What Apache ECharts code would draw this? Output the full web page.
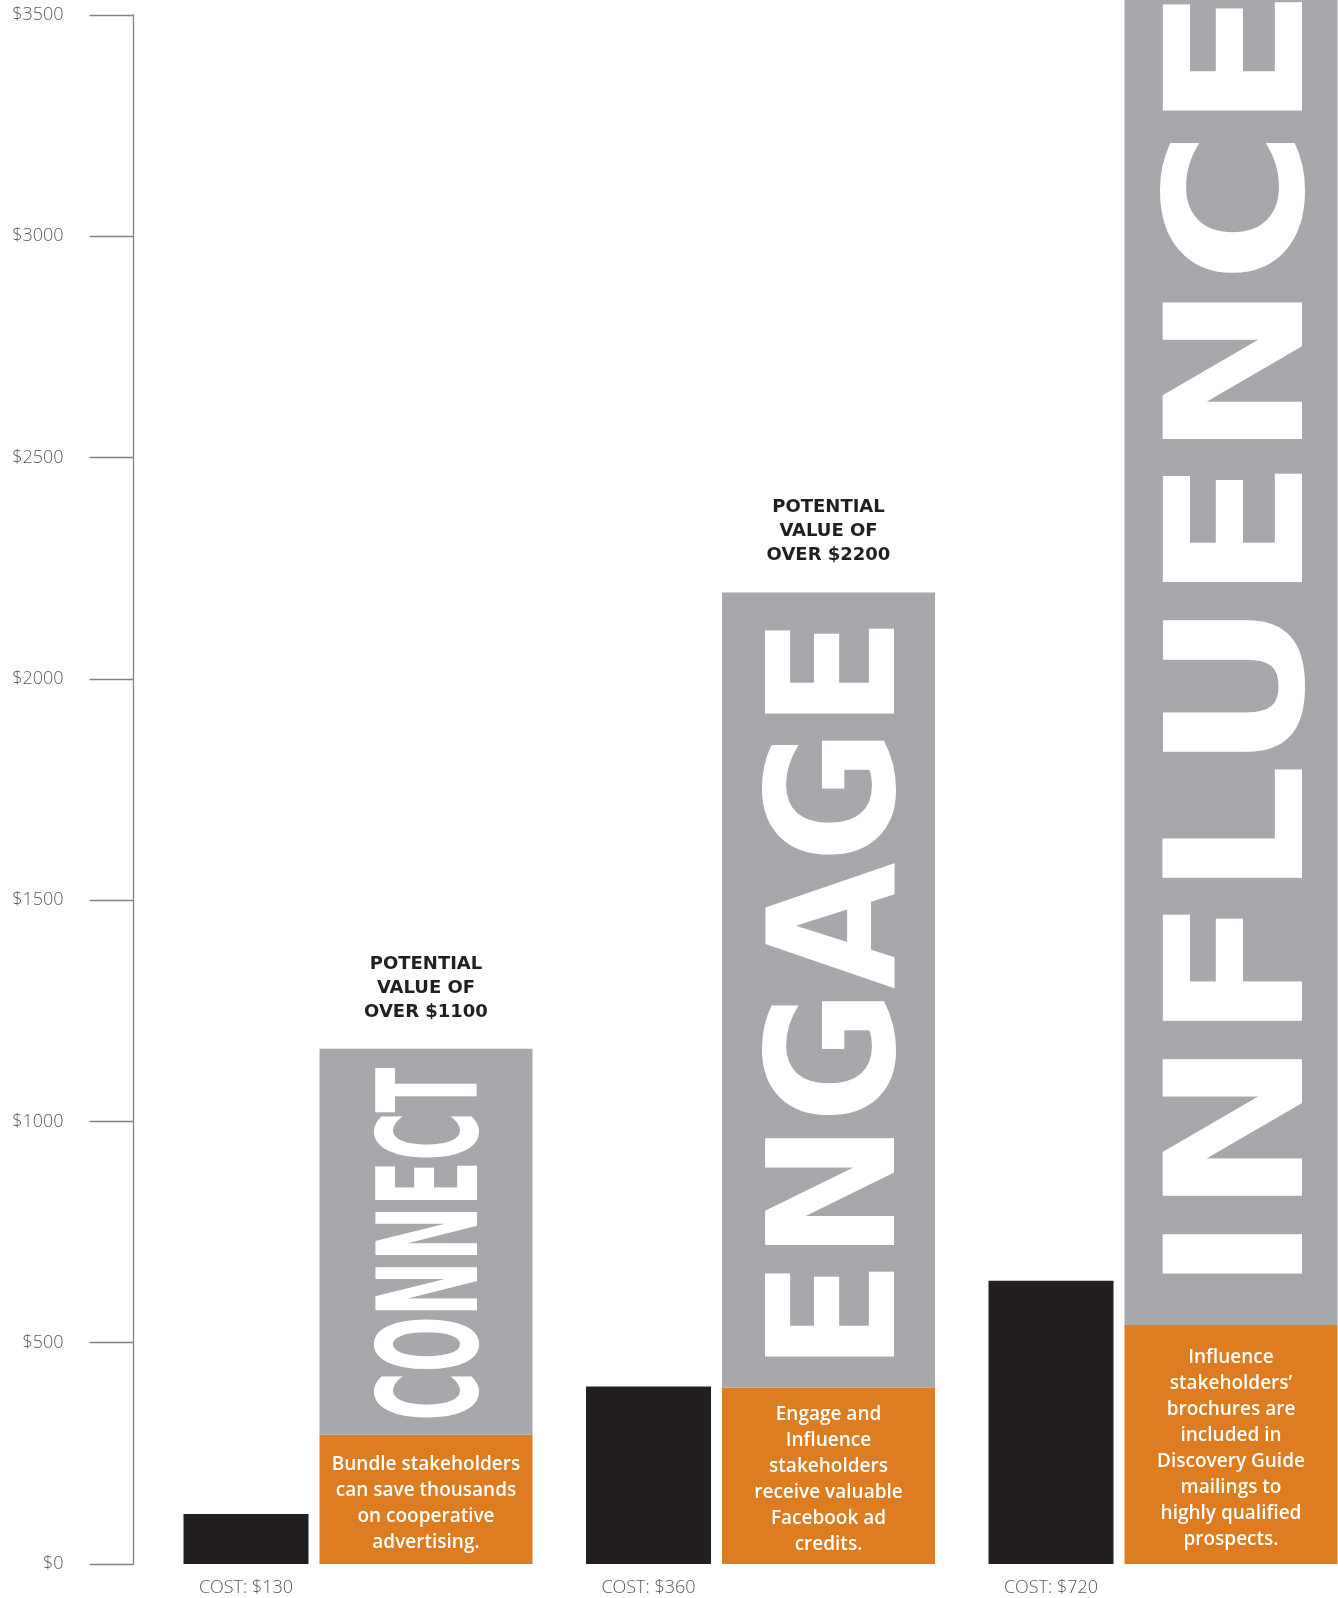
<!DOCTYPE html>
<html><head><meta charset="utf-8">
<script src="https://cdn.jsdelivr.net/npm/echarts@6/dist/echarts.min.js"></script>
<style>html,body{margin:0;padding:0;background:#fff}#c{width:1338px;height:1598px}</style>
</head><body><div id="c"></div>
<script>
// ---- data ----
const categories = ['Connect', 'Engage', 'Influence'];
const costValues = [113, 401, 640];
const costLabels = ['COST: $130', 'COST: $360', 'COST: $720'];
const benefitValues = [292, 398, 540];
const benefitTexts = [
  'Bundle stakeholders\ncan save thousands\non cooperative\nadvertising.',
  'Engage and\nInfluence\nstakeholders\nreceive valuable\nFacebook ad\ncredits.',
  'Influence\nstakeholders\u2019\nbrochures are\nincluded in\nDiscovery Guide\nmailings to\nhighly qualified\nprospects.'
];
const potentialValues = [1164, 2195, 3600]; // third bar runs off the top of the chart
const potentialTitles = ['POTENTIAL\nVALUE OF\nOVER $1100', 'POTENTIAL\nVALUE OF\nOVER $2200', ''];
const tierWords = ['CONNECT', 'ENGAGE', 'INFLUENCE'];
const yMin = 0, yMax = 3500, yStep = 500;

// ---- styles ----
const COLORS = { cost: '#231f20', potential: '#a7a8ab', benefit: '#de7c22', axis: '#808285', text: '#58595b', title: '#231f20' };
const costBarWidth = 125, valueBarWidth = 213, barGapRatio = 0.088;
const grayOffsetX = (costBarWidth + costBarWidth * barGapRatio) / 2;
const wordStyle = [
  { font: 'bold 100px "Liberation Sans Narrow", "DejaVu Sans Condensed", "DejaVu Sans"', length: 350, cap: 105, gap: 17 },
  { font: 'bold 100px "DejaVu Sans"', length: 728, cap: 134, gap: 31 },
  { font: 'bold 100px "DejaVu Sans"', length: 1272, cap: 145, gap: 51 }
];

const mctx = document.createElement('canvas').getContext('2d');
function measure(word, font) {
  mctx.font = font;
  mctx.textBaseline = 'middle';
  mctx.textAlign = 'left';
  const m = mctx.measureText(word);
  const l = m.actualBoundingBoxLeft, r = m.actualBoundingBoxRight;
  const a = m.actualBoundingBoxAscent, d = m.actualBoundingBoxDescent;
  return { inkW: l + r, inkH: a + d, dx: -(r - l) / 2, dy: (a - d) / 2 };
}

const grayPart = potentialValues.map((v, i) => v - benefitValues[i]);
const gap = (barGapRatio * 100) + '%';

const chart = echarts.init(document.getElementById('c'), null, { renderer: 'canvas' });
chart.setOption({
  animation: false,
  backgroundColor: '#ffffff',
  grid: { left: 358, right: 175, top: 15, bottom: 34, containLabel: false },
  xAxis: {
    type: 'category', data: categories, boundaryGap: false,
    axisLine: { show: false }, axisTick: { show: false }, axisLabel: { show: false }, splitLine: { show: false }
  },
  yAxis: {
    type: 'value', min: yMin, max: yMax, interval: yStep, offset: 224.5,
    axisLine: { show: true, lineStyle: { color: COLORS.axis, width: 1.3 } },
    axisTick: { show: true, length: 44, lineStyle: { color: COLORS.axis, width: 1.3 } },
    splitLine: { show: false },
    axisLabel: {
      margin: 70, color: COLORS.text, fontSize: 18, fontFamily: 'Open Sans', fontWeight: 300,
      formatter: v => '$' + v
    }
  },
  series: [
    {
      name: 'Cost', type: 'bar', stack: 'cost', data: costValues, clip: false,
      barWidth: costBarWidth, barGap: gap,
      itemStyle: { color: COLORS.cost },
      label: {
        show: true, position: ['50%', '100%'], align: 'center', verticalAlign: 'top', offset: [0, 15],
        formatter: p => costLabels[p.dataIndex],
        color: COLORS.text, fontSize: 18, fontFamily: 'Open Sans', fontWeight: 300
      }
    },
    {
      name: 'Benefit', type: 'bar', stack: 'value', data: benefitValues, clip: false,
      barWidth: valueBarWidth, barGap: gap,
      itemStyle: { color: COLORS.benefit },
      label: {
        show: true, position: 'inside', offset: [0, 4], formatter: p => benefitTexts[p.dataIndex],
        color: '#ffffff', fontSize: 19, lineHeight: 26, fontFamily: 'Open Sans', fontWeight: 600, align: 'center'
      }
    },
    {
      name: 'Potential', type: 'bar', stack: 'value', data: grayPart, clip: false,
      barWidth: valueBarWidth, barGap: gap,
      itemStyle: { color: COLORS.potential },
      label: {
        show: true, position: 'top', distance: 25, formatter: p => potentialTitles[p.dataIndex],
        color: COLORS.title, fontSize: 18, lineHeight: 24, fontFamily: 'DejaVu Sans', fontWeight: 'bold', align: 'center'
      }
    },
    {
      name: 'Words', type: 'custom', clip: false, z: 5, silent: true,
      data: categories.map((c, i) => [i, benefitValues[i]]),
      renderItem: function (params, api) {
        const i = params.dataIndex;
        const st = wordStyle[i];
        const p = api.coord([api.value(0), api.value(1)]);
        const m = measure(tierWords[i], st.font);
        return {
          type: 'text',
          x: p[0] + grayOffsetX,
          y: p[1] - st.gap - st.length / 2,
          rotation: Math.PI / 2,
          scaleX: st.length / m.inkW,
          scaleY: st.cap / m.inkH,
          style: { text: tierWords[i], x: m.dx, y: m.dy, fill: '#ffffff', font: st.font, align: 'left', verticalAlign: 'middle' }
        };
      }
    }
  ]
});
</script>
</body></html>
